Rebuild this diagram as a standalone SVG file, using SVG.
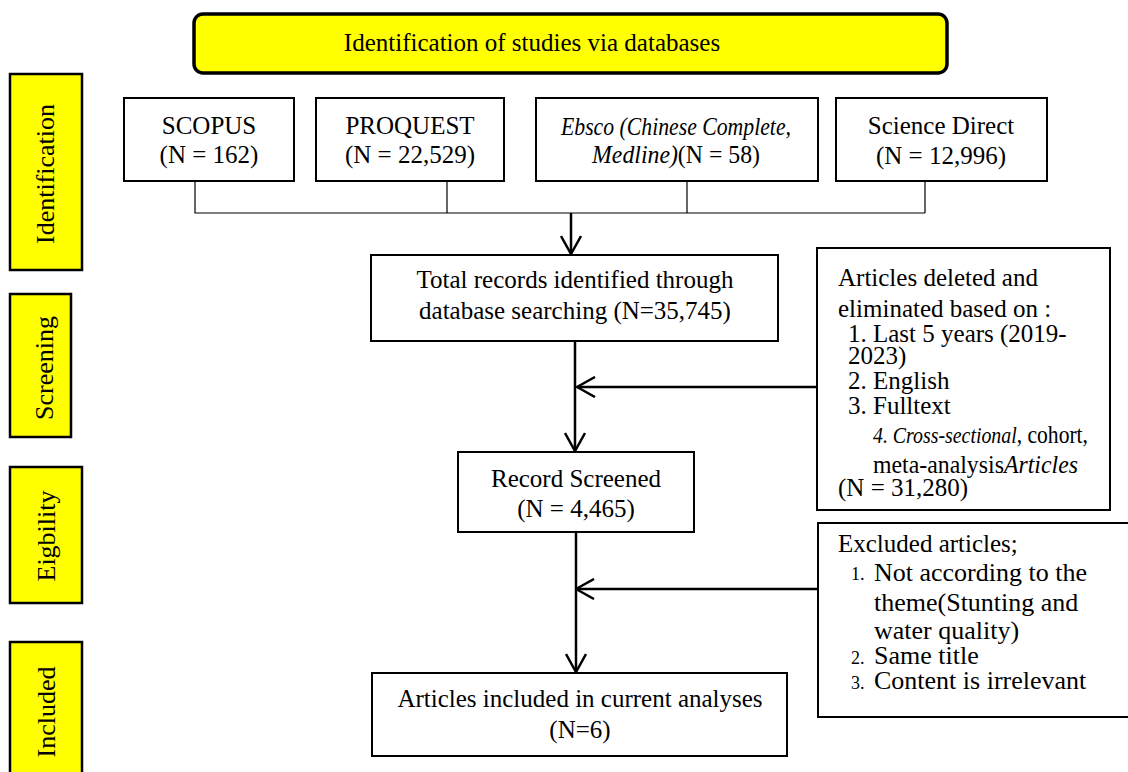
<svg xmlns="http://www.w3.org/2000/svg" width="1128" height="772" viewBox="0 0 1128 772">
<style>
text{font-family:"Liberation Serif","Times New Roman",serif;fill:#000;font-size:25px}
.c{text-anchor:middle}
.box{fill:#fff;stroke:#000;stroke-width:2}
.side{fill:#ffff00;stroke:#000;stroke-width:2.5}
.side text{font-size:26px}
.thin{stroke:#000;stroke-width:1.2;fill:none}
.arr{stroke:#000;stroke-width:2.5;fill:none;marker-end:url(#v)}
.i{font-style:italic}
.si{font-style:italic;font-size:23px}
.sm{font-size:18px}
.it{font-size:26px}
</style>
<defs>
<marker id="v" viewBox="0 0 20 22" refX="19" refY="11" markerWidth="20" markerHeight="22" markerUnits="userSpaceOnUse" orient="auto">
<path d="M1,1 L19,11 L1,21" fill="none" stroke="#000" stroke-width="2.5"/>
</marker>
</defs>
<rect width="1128" height="772" fill="#fff"/>

<g id="banner">
<rect x="194" y="14" width="753" height="59" rx="9" fill="#ffff00" stroke="#000" stroke-width="3.5"/>
<text x="532" y="51" class="c">Identification of studies via databases</text>
</g>

<g id="stage-identification" class="side">
<rect x="10" y="74" width="72" height="196"/>
<text transform="translate(54,174) rotate(-90)" class="c" stroke="none">Identification</text>
</g>
<g id="stage-screening" class="side">
<rect x="10" y="294" width="61" height="143"/>
<text transform="translate(53,368) rotate(-90)" class="c" stroke="none">Screening</text>
</g>
<g id="stage-eligibility" class="side">
<rect x="10" y="467" width="72" height="136"/>
<text transform="translate(55,536) rotate(-90)" class="c" stroke="none">Eigbility</text>
</g>
<g id="stage-included" class="side">
<rect x="10" y="642" width="72" height="140"/>
<text transform="translate(55,712) rotate(-90)" class="c" stroke="none">Included</text>
</g>

<g id="scopus">
<rect class="box" x="124" y="98" width="170" height="83"/>
<text x="209" y="134" class="c">SCOPUS</text>
<text x="209" y="163" class="c">(N = 162)</text>
</g>
<g id="proquest">
<rect class="box" x="316" y="98" width="188" height="83"/>
<text x="410" y="134" class="c">PROQUEST</text>
<text x="410" y="163" class="c">(N = 22,529)</text>
</g>
<g id="ebsco">
<rect class="box" x="536" y="98" width="282" height="83"/>
<text x="676" y="135" class="c i" textLength="230" lengthAdjust="spacingAndGlyphs">Ebsco (Chinese Complete,</text>
<text x="676" y="163" class="c" textLength="168" lengthAdjust="spacingAndGlyphs"><tspan class="i">Medline)</tspan>(N = 58)</text>
</g>
<g id="sciencedirect">
<rect class="box" x="836" y="98" width="211" height="83"/>
<text x="941" y="134" class="c">Science Direct</text>
<text x="941" y="164" class="c">(N = 12,996)</text>
</g>

<g id="total">
<rect class="box" x="371" y="255" width="407" height="86"/>
<text x="575" y="288" class="c">Total records identified through</text>
<text x="575" y="319" class="c">database searching (N=35,745)</text>
</g>

<g id="deleted">
<rect class="box" x="817" y="248" width="293" height="262"/>
<text x="838" y="286">Articles deleted and</text>
<text x="838" y="317">eliminated based on :</text>
<text x="848" y="342">1. Last 5 years (2019-</text>
<text x="848" y="364">2023)</text>
<text x="848" y="389">2. English</text>
<text x="848" y="414">3. Fulltext</text>
<text x="873" y="443" textLength="215" lengthAdjust="spacingAndGlyphs"><tspan class="si">4. Cross-sectional</tspan>, cohort,</text>
<text x="873" y="473" textLength="205" lengthAdjust="spacingAndGlyphs">meta-analysis<tspan class="i">Articles</tspan></text>
<text x="838" y="496">(N = 31,280)</text>
</g>

<g id="screened">
<rect class="box" x="458" y="452" width="236" height="80"/>
<text x="576" y="487" class="c">Record Screened</text>
<text x="576" y="517" class="c">(N = 4,465)</text>
</g>

<g id="excluded">
<rect class="box" x="818" y="523" width="320" height="194"/>
<text x="838" y="552">Excluded articles;</text>
<text x="851" y="580" class="sm">1.</text>
<text x="874" y="581" class="it">Not according to the</text>
<text x="874" y="611" class="it">theme(Stunting and</text>
<text x="874" y="639" class="it">water quality)</text>
<text x="851" y="664" class="sm">2.</text>
<text x="874" y="664" class="it">Same title</text>
<text x="851" y="689" class="sm">3.</text>
<text x="874" y="689" class="it">Content is irrelevant</text>
</g>

<g id="included">
<rect class="box" x="372" y="673" width="415" height="83"/>
<text x="580" y="707" class="c">Articles included in current analyses</text>
<text x="580" y="738" class="c">(N=6)</text>
</g>

<g id="connectors">
<path class="thin" d="M195,181 V213 H925 M447,181 V213 M687,181 V213 M925,181 V213"/>
<path class="arr" d="M571,213 V254"/>
<path class="arr" d="M575,341 V451"/>
<path class="arr" d="M817,387 H577"/>
<path class="arr" d="M576,532 V672"/>
<path class="arr" d="M818,589 H576"/>
</g>
</svg>
